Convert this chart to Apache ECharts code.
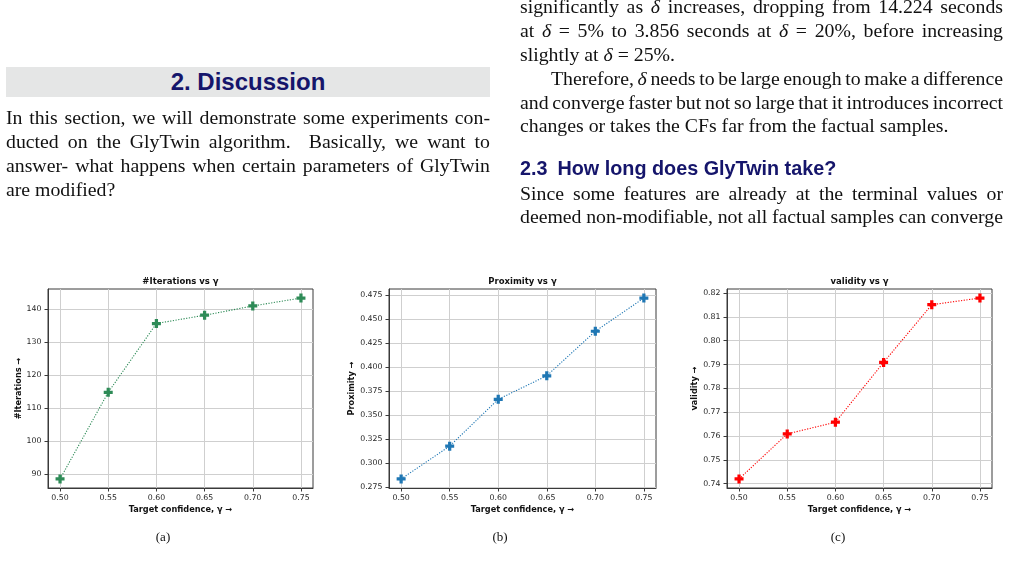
<!DOCTYPE html>
<html>
<head>
<meta charset="utf-8">
<script src="https://cdn.jsdelivr.net/npm/echarts@6/dist/echarts.min.js"></script>
<style>
  html, body { margin: 0; padding: 0; background: #fff; width: 1010px; height: 565px; overflow: hidden; }
  #page { position: relative; width: 1010px; height: 565px; }
  #chart { position: absolute; left: 0; top: 0; width: 1010px; height: 565px; }
  .ln { position: absolute; font-family: "Liberation Serif", "Times New Roman", serif; font-size: 19.8px; line-height: 24px; color: #111; white-space: nowrap; }
  .j { text-align: justify; text-align-last: justify; white-space: normal; word-spacing: -3px; }
  .lc { left: 6px; width: 484px; }
  .rc { left: 520px; width: 483px; }
  .sec { position: absolute; left: 6px; top: 67px; width: 484px; height: 30px; line-height: 30px; background: #e5e6e6; text-align: center; font-family: "Liberation Sans", Arial, sans-serif; font-weight: bold; font-size: 24px; color: #15156b; }
  .sub { position: absolute; font-family: "Liberation Sans", Arial, sans-serif; font-weight: bold; font-size: 19.8px; line-height: 24px; color: #15156b; white-space: nowrap; }
  .cap { position: absolute; font-family: "Liberation Serif", serif; font-size: 13px; line-height: 16px; color: #111; width: 40px; text-align: center; }
</style>
</head>
<body>
<div id="page">
  <div id="chart"></div>

  <!-- left column -->
  <div class="sec">2. Discussion</div>
  <div class="ln lc j" style="top:105.3px">In this section, we will demonstrate some experiments con-</div>
  <div class="ln lc j" style="top:129.3px">ducted on the GlyTwin algorithm.&nbsp; Basically, we want to</div>
  <div class="ln lc j" style="top:153.3px">answer- what happens when certain parameters of GlyTwin</div>
  <div class="ln lc" style="top:177.3px">are modified?</div>

  <!-- right column -->
  <div class="ln rc j" style="top:-5.7px">significantly as <i>δ</i> increases, dropping from 14.224 seconds</div>
  <div class="ln rc j" style="top:18.1px">at <i>δ</i> = 5% to 3.856 seconds at <i>δ</i> = 20%, before increasing</div>
  <div class="ln rc" style="top:41.9px">slightly at <i>δ</i> = 25%.</div>
  <div class="ln j" style="top:65.7px;left:551px;width:452px;word-spacing:-4px">Therefore, <i>δ</i> needs to be large enough to make a difference</div>
  <div class="ln rc j" style="top:89.5px;word-spacing:-4px">and converge faster but not so large that it introduces incorrect</div>
  <div class="ln rc" style="top:113.3px">changes or takes the CFs far from the factual samples.</div>
  <div class="sub" style="left:520px;top:156.1px">2.3<span style="display:inline-block;width:10px"></span>How long does GlyTwin take?</div>
  <div class="ln rc j" style="top:180.8px">Since some features are already at the terminal values or</div>
  <div class="ln rc j" style="top:204.3px">deemed non-modifiable, not all factual samples can converge</div>

  <!-- sub captions -->
  <div class="cap" style="left:143px;top:529px">(a)</div>
  <div class="cap" style="left:480px;top:529px">(b)</div>
  <div class="cap" style="left:818px;top:529px">(c)</div>
  <div class="ln" style="left:8px;top:560px;color:#888">Figure 2: Results of ablation studies on γ for evaluating GlyTwin. The ablation studies include the effect on (a) the</div>
</div>
<script>
// target confidence values (x)
const gamma = [0.50, 0.55, 0.60, 0.65, 0.70, 0.75];
// series
const iterations = [88.6, 114.8, 135.6, 138.1, 140.9, 143.3];
const proximity = [0.2834, 0.3176, 0.3664, 0.3909, 0.4373, 0.4719];
const validity = [0.742, 0.7609, 0.7658, 0.7909, 0.8151, 0.8179];
// tick labels
const xTicks = [0.50, 0.55, 0.60, 0.65, 0.70, 0.75];
const iterTicks = [90, 100, 110, 120, 130, 140];
const proxTicks = [0.275, 0.300, 0.325, 0.350, 0.375, 0.400, 0.425, 0.450, 0.475];
const validTicks = [0.74, 0.75, 0.76, 0.77, 0.78, 0.79, 0.80, 0.81, 0.82];

const FONT = "DejaVu Sans";
const spine = "#3a3a3a";

// matplotlib-like 5% padding
function pad(arr) {
  const lo = Math.min(...arr), hi = Math.max(...arr);
  const m = (hi - lo) * 0.05;
  return [lo - m, hi + m];
}

const panels = [
  { box: [48, 289, 265, 199], data: iterations, ticks: iterTicks, dec: 0, color: "#2e8b57",
    title: "#Iterations vs γ", yname: "#Iterations →", ygap: 24 },
  { box: [389, 289, 267, 199], data: proximity, ticks: proxTicks, dec: 3, color: "#1f77b4",
    title: "Proximity vs γ", yname: "Proximity →", ygap: 32 },
  { box: [727, 289, 265, 199], data: validity, ticks: validTicks, dec: 2, color: "#ff0000",
    title: "validity vs γ", yname: "validity →", ygap: 28 },
];

// filled plus marker
const plus = "path://M3.2,0H6.8V3.2H10V6.8H6.8V10H3.2V6.8H0V3.2H3.2Z";
const xr = pad(gamma);

let grids = [], xAxes = [], yAxes = [], series = [], graphics = [];
panels.forEach((p, i) => {
  const [l, t, w, h] = p.box;
  const yr = pad(p.data);
  grids.push({ left: l, top: t, width: w, height: h, show: true, borderColor: spine, borderWidth: 1, backgroundColor: "transparent" });
  xAxes.push({
    type: "value", gridIndex: i, min: xr[0], max: xr[1],
    axisLine: { show: true, onZero: false, lineStyle: { color: spine, width: 1 } },
    axisTick: { show: true, length: 3.5, customValues: xTicks, lineStyle: { color: spine } },
    axisLabel: { customValues: xTicks, formatter: (v) => v.toFixed(2), fontSize: 7.8, color: "#262626", margin: 6, fontFamily: FONT },
    splitLine: { show: true, lineStyle: { color: "#cfcfcf", width: 1 } },
    name: "Target confidence, γ →", nameLocation: "middle", nameGap: 18,
    nameTextStyle: { fontWeight: "bold", fontSize: 8.2, color: "#111", fontFamily: FONT },
  });
  yAxes.push({
    type: "value", gridIndex: i, min: yr[0], max: yr[1],
    axisLine: { show: true, onZero: false, lineStyle: { color: spine, width: 1 } },
    axisTick: { show: true, length: 3.5, customValues: p.ticks, lineStyle: { color: spine } },
    axisLabel: { customValues: p.ticks, formatter: (v) => v.toFixed(p.dec), fontSize: 7.8, color: "#262626", margin: 6.5, fontFamily: FONT },
    splitLine: { show: true, lineStyle: { color: "#cfcfcf", width: 1 } },
    name: p.yname, nameLocation: "middle", nameRotate: 90, nameGap: p.ygap,
    nameTextStyle: { fontWeight: "bold", fontSize: 8.2, color: "#111", fontFamily: FONT },
  });
  series.push({
    type: "line", xAxisIndex: i, yAxisIndex: i,
    data: gamma.map((g, k) => [g, p.data[k]]),
    symbol: plus, symbolSize: 9, showSymbol: true,
    itemStyle: { color: p.color },
    lineStyle: { color: p.color, width: 1.1, type: [1.2, 1.5] },
    animation: false, z: 5,
  });
  graphics.push({
    type: "text", x: l + w / 2, y: 281.7,
    style: { text: p.title, textAlign: "center", textVerticalAlign: "middle", font: "bold 8.5px " + FONT, fill: "#111" },
  });
});

const chart = echarts.init(document.getElementById("chart"));
chart.setOption({
  animation: false,
  backgroundColor: "transparent",
  grid: grids,
  xAxis: xAxes,
  yAxis: yAxes,
  series: series,
  graphic: graphics,
});
</script>
</body>
</html>
